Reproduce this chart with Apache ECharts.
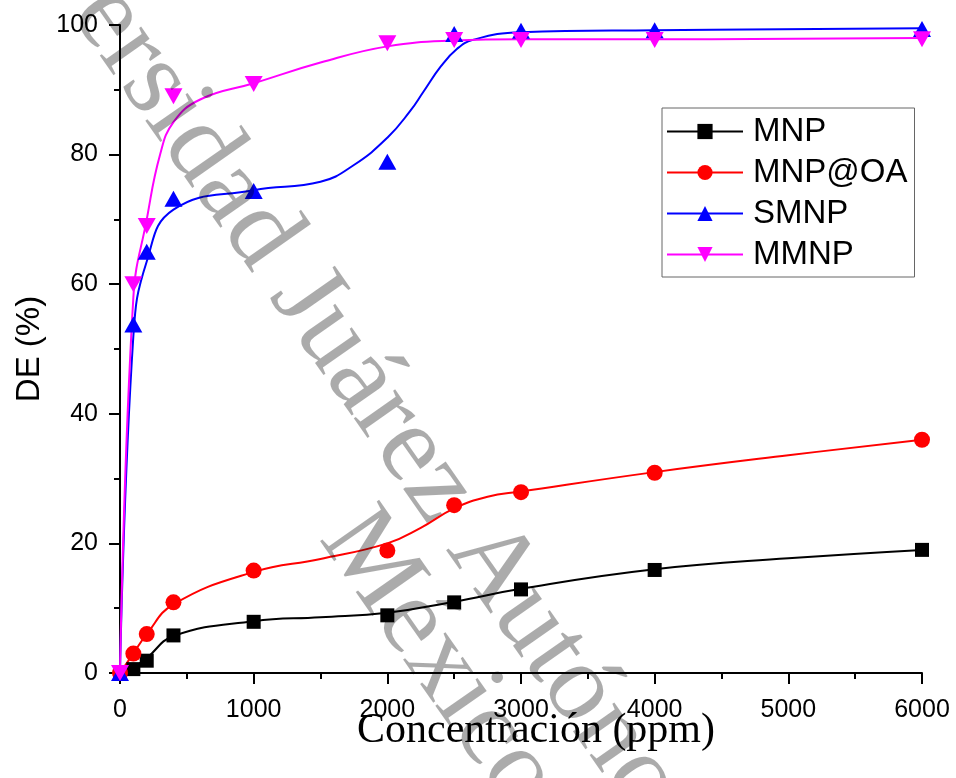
<!DOCTYPE html>
<html><head><meta charset="utf-8">
<script src="https://cdn.jsdelivr.net/npm/echarts@6/dist/echarts.min.js"></script>
<style>html,body{margin:0;padding:0;background:#fff}#c{width:956px;height:778px}</style>
</head><body><div id="c"></div>
<script>
// measured points
const concentration = [0, 100, 200, 400, 1000, 2000, 2500, 3000, 4000, 6000];
const mnp   = [0, 0.6, 1.9, 5.8, 7.9, 8.9, 10.9, 12.9, 15.9, 19.0];
const mnpOA = [0, 3.0, 6.0, 10.9, 15.8, 18.9, 25.9, 27.9, 30.9, 36.0];
const smnp  = [0, 53.8, 65.0, 73.2, 74.4, 78.9, 98.6, 99.1, 99.2, 99.4];
const mmnp  = [0, 60.0, 69.0, 89.0, 90.9, 97.2, 97.7, 97.7, 97.7, 97.8];

// fitted curves
const mnpFitX   = [0, 100, 200, 400, 1000, 1500, 2000, 2500, 3000, 4000, 5000, 6000];
const mnpFitY   = [0, 0.8, 2.3, 5.7, 8.0, 8.6, 9.3, 11.0, 13.0, 16.0, 17.7, 19.0];
const mnpOAFitX = [0, 100, 200, 400, 1000, 1500, 2000, 2250, 2500, 2750, 3000, 4000, 5000, 6000];
const mnpOAFitY = [0, 3.0, 6.0, 10.6, 15.6, 17.6, 20.0, 22.4, 25.4, 27.2, 28.0, 31.0, 33.6, 36.0];
const smnpFitX  = [0, 100, 200, 400, 1000, 1500, 1750, 2000, 2170, 2270, 2400, 2520, 2640, 3000, 4000, 6000];
const smnpFitY  = [0, 52, 63.5, 71.5, 74.5, 75.8, 78.4, 82.6, 86.7, 89.7, 93.6, 96.3, 97.7, 98.9, 99.2, 99.5];
const mmnpFitX  = [0, 100, 200, 300, 400, 600, 1000, 1500, 2000, 2500, 3000, 4000, 6000];
const mmnpFitY  = [0, 58, 70, 80, 85.0, 88.5, 91, 94.2, 96.7, 97.6, 97.8, 97.8, 98.0];

const names = ['MNP', 'MNP@OA', 'SMNP', 'MMNP'];
const colors = ['#000000', '#ff0000', '#0000ff', '#ff00ff'];
const symbols = ['rect', 'circle', 'triangle', 'triangle'];
const rotates = [0, 0, 0, 180];
const sizes = [14, 16, [18, 16], [18, 16]];
const pts = [mnp, mnpOA, smnp, mmnp];
const fitsX = [mnpFitX, mnpOAFitX, smnpFitX, mmnpFitX];
const fitsY = [mnpFitY, mnpOAFitY, smnpFitY, mmnpFitY];

const series = [];
names.forEach((n, k) => {
  series.push({
    name: n, type: 'line', smooth: 0.45,
    data: fitsX[k].map((x, i) => [x, fitsY[k][i]]),
    symbol: symbols[k], symbolRotate: rotates[k], showSymbol: false,
    lineStyle: { color: colors[k], width: 2 }, itemStyle: { color: colors[k] },
    silent: true, z: 2, animation: false
  });
});
names.forEach((n, k) => {
  series.push({
    name: n, type: 'scatter',
    data: concentration.map((x, i) => [x, pts[k][i]]),
    symbol: symbols[k], symbolRotate: rotates[k], symbolSize: sizes[k],
    itemStyle: { color: colors[k], opacity: 1 }, z: 3, animation: false
  });
});

const SANS = '"Liberation Sans", Arial, sans-serif';
const SERIF = '"Liberation Serif", "Times New Roman", serif';
const axisCommon = {
  axisLine: { show: true, onZero: false, lineStyle: { color: '#000', width: 2 } },
  axisTick: { show: true, inside: false, length: 11, lineStyle: { color: '#000', width: 2 } },
  minorTick: { show: true, splitNumber: 2, length: 6, lineStyle: { color: '#000', width: 2 } },
  splitLine: { show: false }, minorSplitLine: { show: false },
  nameMoveOverlap: false
};

const chart = echarts.init(document.getElementById('c'), null, { renderer: 'canvas' });
chart.setOption({
  backgroundColor: '#fff',
  animation: false,
  grid: { left: 120, right: 34, top: 25, bottom: 105, containLabel: false },
  xAxis: Object.assign({
    type: 'value', min: 0, max: 6000, interval: 1000,
    axisLabel: { fontSize: 25, color: '#000', fontFamily: SANS, margin: 25, formatter: v => String(v) },
    name: 'Concentración (ppm)', nameLocation: 'middle', nameGap: 37,
    nameTextStyle: { fontFamily: SERIF, fontSize: 42, color: '#000', padding: [0, 0, 0, 30] }
  }, axisCommon),
  yAxis: Object.assign({
    type: 'value', min: 0, max: 100, interval: 20,
    axisLabel: { fontSize: 25, color: '#000', fontFamily: SANS, margin: 22, formatter: v => String(v) },
    name: 'DE (%)', nameLocation: 'middle', nameGap: 74, nameRotate: 90,
    nameTextStyle: { fontFamily: SANS, fontSize: 33, color: '#000' }
  }, axisCommon),
  legend: {
    data: names, orient: 'vertical', left: 662, top: 108,
    itemWidth: 76, itemHeight: 19, itemGap: 8,
    padding: [7, 7, 6, 4],
    borderColor: '#666', borderWidth: 1, backgroundColor: '#fff',
    lineStyle: { width: 2 },
    textStyle: { fontFamily: SANS, fontSize: 33, color: '#000', lineHeight: 33, padding: [0, 0, 0, 5] },
    selectedMode: false
  },
  series: series,
  graphic: [
    { type: 'text', x: -32, y: -183, rotation: -55 * Math.PI / 180, z: 100, silent: true,
      style: { text: 'Universidad Juárez Autónoma de Tabasco', font: '110px "Liberation Serif"',
               fill: 'rgba(0,0,0,0.33)', textAlign: 'left', textVerticalAlign: 'middle', align: 'left', verticalAlign: 'middle' } },
    { type: 'text', x: 342, y: 522, rotation: -55 * Math.PI / 180, z: 100, silent: true,
      style: { text: 'México', font: '110px "Liberation Serif"',
               fill: 'rgba(0,0,0,0.33)', textAlign: 'left', textVerticalAlign: 'middle', align: 'left', verticalAlign: 'middle' } }
  ]
});
</script>
</body></html>
